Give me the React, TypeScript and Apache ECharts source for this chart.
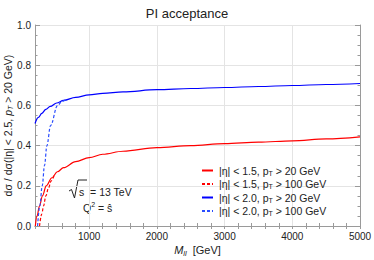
import React, { useEffect, useRef } from "react";
import * as echarts from "echarts";

const xMin = 200;
const xMax = 5000;
const xTickStep = 200;
const xGridLines = [1000, 2000, 3000, 4000];

const redSolidM = [205, 230, 267, 310, 366, 450, 530, 622, 800, 1000, 1200, 1500, 2000, 2500, 3000, 3500, 4000, 4500, 5000];
const redSolidV = [0, 0.05, 0.1, 0.15, 0.2, 0.24, 0.27, 0.29, 0.32, 0.34, 0.357, 0.372, 0.39, 0.4, 0.41, 0.417, 0.424, 0.433, 0.443];

const redDashM = [267, 300, 327, 360, 400, 440, 480];
const redDashV = [0, 0.06, 0.1, 0.15, 0.19, 0.225, 0.25];

const blueSolidM = [200, 250, 300, 360, 425, 520, 622, 800, 1000, 1200, 1500, 2000, 2500, 3000, 3500, 4000, 4500, 5000];
const blueSolidV = [0.51, 0.54, 0.56, 0.58, 0.595, 0.612, 0.625, 0.64, 0.652, 0.66, 0.667, 0.678, 0.684, 0.689, 0.694, 0.699, 0.704, 0.709];

const blueDashM = [238, 270, 307, 340, 376, 430, 533, 600, 672];
const blueDashV = [0, 0.1, 0.2, 0.3, 0.4, 0.5, 0.6, 0.62, 0.632];

const seriesNames = ["r1", "r2", "b1", "b2"];
const legendTexts: Record<string, [string, string]> = {
  r1: ["|η| < 1.5, p", " > 20 GeV"],
  r2: ["|η| < 1.5, p", " > 100 GeV"],
  b1: ["|η| < 2.0, p", " > 20 GeV"],
  b2: ["|η| < 2.0, p", " > 100 GeV"],
};

const FONT = "Liberation Sans, Arial, sans-serif";
const FRAME = "#9a9a9a";
const GRID = "#e4e4e4";

function zip(m: number[], v: number[]) {
  return m.map((x, i) => [x, v[i]]);
}

export default function App() {
  const ref = useRef<HTMLDivElement>(null);
  useEffect(() => {
    if (!ref.current) return;
    const chart = echarts.init(ref.current, null, { renderer: "svg" });
    const tickBase = { show: true, inside: true, lineStyle: { color: FRAME, width: 1 } };
    const xCommon = {
      type: "value",
      min: xMin,
      max: xMax,
      interval: xTickStep,
      axisLine: { show: true, lineStyle: { color: FRAME } },
      axisTick: { ...tickBase, length: 3 },
      splitLine: { show: false },
    };
    const yCommon = {
      type: "value",
      min: 0,
      max: 1,
      interval: 0.2,
      axisLine: { show: true, lineStyle: { color: FRAME } },
      axisTick: { ...tickBase, length: 5 },
      minorTick: { show: true, splitNumber: 4, length: 2.5, lineStyle: { color: FRAME } },
    };
    const line = (name: string, m: number[], v: number[], color: string, dashed: boolean, extra: any = {}) => ({
      name,
      type: "line",
      data: zip(m, v),
      showSymbol: false,
      symbol: "none",
      smooth: 0.35,
      smoothMonotone: "x",
      clip: true,
      z: 3,
      lineStyle: { color, width: 1.2, type: dashed ? [3, 2] : "solid" },
      itemStyle: { color },
      ...extra,
    });
    chart.setOption({
      animation: false,
      textStyle: { fontFamily: FONT },
      title: {
        text: "PI acceptance",
        left: "center",
        top: 2,
        textStyle: { fontFamily: FONT, fontSize: 13, fontWeight: "normal", color: "#222" },
      },
      grid: { left: 35, right: 14, top: 25, bottom: 34, show: false, outerBoundsMode: "none", containLabel: false },
      xAxis: [
        {
          ...xCommon,
          position: "bottom",
          axisLabel: {
            color: "#222",
            fontSize: 10,
            fontFamily: FONT,
            margin: 5,
            hideOverlap: false,
            formatter: (v: number) => (Math.round(v) % 1000 === 0 ? String(Math.round(v)) : ""),
          },
          name: "{i|M}{si|ll}{n|  [GeV]}",
          nameLocation: "middle",
          nameGap: 17,
          nameMoveOverlap: false,
          nameTextStyle: {
            rich: {
              i: { fontStyle: "italic", fontSize: 11, color: "#222", fontFamily: FONT },
              si: { fontStyle: "italic", fontSize: 7.5, color: "#222", fontFamily: FONT, padding: [6, 0, 0, 0] },
              n: { fontSize: 11, color: "#222", fontFamily: FONT },
            },
          },
        },
        {
          ...xCommon,
          position: "top",
          axisLabel: { show: false },
        },
      ],
      yAxis: [
        {
          ...yCommon,
          position: "left",
          axisLabel: {
            color: "#222",
            fontSize: 10,
            fontFamily: FONT,
            margin: 4,
            formatter: (v: number) => v.toFixed(1),
          },
          splitLine: { show: true, lineStyle: { color: GRID, width: 1 } },
          name: "{n|dσ / dσ(|η| < 2.5, }{i|p}{si|T}{n| > 20 GeV)}",
          nameLocation: "middle",
          nameGap: 21,
          nameMoveOverlap: false,
          nameRotate: 90,
          nameTextStyle: {
            rich: {
              n: { fontSize: 10.5, color: "#222", fontFamily: FONT },
              i: { fontStyle: "italic", fontSize: 10.5, color: "#222", fontFamily: FONT },
              si: { fontStyle: "italic", fontSize: 7, color: "#222", fontFamily: FONT, padding: [6, 0, 0, 0] },
            },
          },
        },
        {
          ...yCommon,
          position: "right",
          axisLabel: { show: false },
          splitLine: { show: false },
        },
      ],
      legend: {
        data: seriesNames,
        orient: "vertical",
        left: 196,
        top: 160,
        itemWidth: 11,
        itemHeight: 8,
        itemGap: 2,
        itemStyle: { opacity: 0 },
        formatter: (name: string) => {
          const t = legendTexts[name];
          return `{n|${t[0]}}{s|T}{n|${t[1]}}`;
        },
        textStyle: {
          padding: [0, 0, 0, 1],
          rich: {
            n: { fontSize: 10.5, color: "#222", fontFamily: FONT },
            s: { fontSize: 7, color: "#222", fontFamily: FONT, padding: [5, 0, 0, 0] },
          },
        },
      },
      graphic: [
        {
          type: "polyline",
          shape: { points: [[69, 191], [71.5, 189.5], [74.5, 198], [78, 180], [87, 180]] },
          style: { stroke: "#222", lineWidth: 1, fill: "none" },
        },
        { type: "text", left: 79, top: 186.5, style: { text: "s  = 13 TeV", fontSize: 10.5, fontFamily: FONT, fill: "#222" } },
        {
          type: "text",
          left: 83,
          top: 201,
          style: {
            text: "{n|Q}{s|2}{n| = ŝ}",
            fontFamily: FONT,
            rich: {
              n: { fontSize: 10.5, fill: "#222", fontFamily: FONT },
              s: { fontSize: 7, fill: "#222", fontFamily: FONT, padding: [0, 0, 6, 0] },
            },
          },
        },
      ],
      series: [
        line("r1", redSolidM, redSolidV, "#ff0000", false, {
          markLine: {
            silent: true,
            symbol: "none",
            z: 1,
            label: { show: false },
            lineStyle: { color: GRID, width: 1, type: "solid" },
            emphasis: { disabled: true },
            data: xGridLines.map((x) => ({ xAxis: x })),
          },
        }),
        line("r2", redDashM, redDashV, "#ff0000", true),
        line("b1", blueSolidM, blueSolidV, "#0000ff", false),
        line("b2", blueDashM, blueDashV, "#2a4dff", true),
      ],
    });
    return () => chart.dispose();
  }, []);
  return <div ref={ref} style={{ position: "absolute", left: 0, top: 0, width: 374, height: 260 }} />;
}
